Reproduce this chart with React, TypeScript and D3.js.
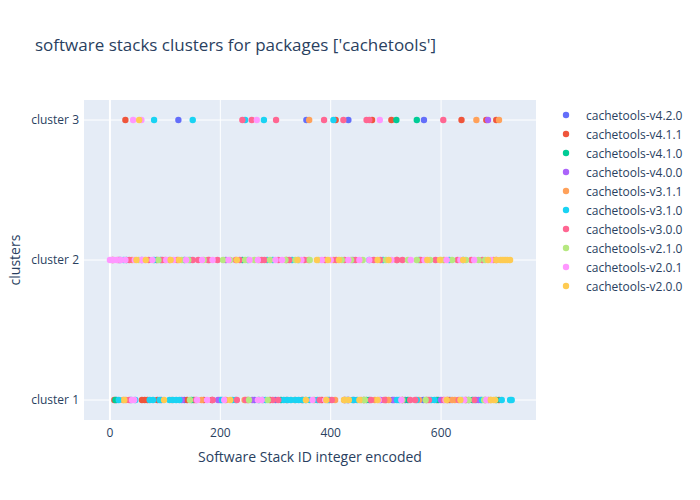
import { useEffect, useRef } from "react"
import * as d3 from "d3"

const width = 700
const height = 500

const clusters = ["cluster 1", "cluster 2", "cluster 3"]
const xTicks = [0, 200, 400, 600]
const versions = [
  "cachetools-v4.2.0",
  "cachetools-v4.1.1",
  "cachetools-v4.1.0",
  "cachetools-v4.0.0",
  "cachetools-v3.1.1",
  "cachetools-v3.1.0",
  "cachetools-v3.0.0",
  "cachetools-v2.1.0",
  "cachetools-v2.0.1",
  "cachetools-v2.0.0",
]
const colors = ["#636efa", "#EF553B", "#00cc96", "#ab63fa", "#FFA15A", "#19d3f3", "#FF6692", "#B6E880", "#FF97FF", "#FECB52"]

// stack ids per cluster, one set per version
const v420 = {
  c1: [12, 38, 93, 135, 200, 262, 300, 398, 431, 442, 470, 512, 535, 568, 616, 650, 663],
  c2: [18, 92, 135],
  c3: [124, 356, 432, 569],
}
const v411 = {
  c1: [8, 58, 63, 68, 86, 140, 152, 170, 185, 250, 290, 320, 348, 384, 425, 460, 500, 530, 574, 592, 612, 645, 680, 705],
  c2: [5, 85, 320],
  c3: [28, 409, 475, 510, 637, 682, 700],
}
const v410 = {
  c1: [10, 148, 270, 310, 465, 540, 595, 657, 700],
  c2: [30, 240],
  c3: [519, 556],
}
const v400 = {
  c1: [130, 196, 258, 277, 432, 490, 515, 600, 668, 672],
  c2: [58, 210, 440],
  c3: [685],
}
const v311 = {
  c1: [24, 29, 112, 166, 210, 244, 335, 370, 408, 455, 480, 505, 560, 620, 625, 690],
  c2: [40, 100, 180, 270, 360, 405, 520, 605, 695],
  c3: [361, 664, 705],
}
const v310 = {
  c1: [16, 46, 72, 78, 90, 108, 114, 120, 126, 203, 222, 228, 282, 315, 322, 328, 336, 342, 350, 355, 362, 376, 395, 440, 448, 520, 524, 556, 582, 588, 638, 674, 710, 725, 728],
  c2: [25, 80, 145, 250, 285, 295, 330, 342, 470, 495, 560, 615, 640],
  c3: [80, 150, 245, 279, 405],
}
const v300 = {
  c1: [35, 156, 186, 230, 246, 295, 305, 380, 402, 426, 473, 497, 544, 553, 578, 605, 632, 660, 686],
  c2: [15, 35, 70, 95, 108, 122, 150, 160, 178, 195, 228, 235, 275, 280, 305, 325, 352, 390, 410, 425, 445, 478, 490, 520, 530, 563, 590, 630, 655, 675, 700],
  c3: [240, 257, 301, 388, 423, 465, 470, 604],
}
const v210 = {
  c1: [145, 252, 286, 428, 460, 462, 530, 572, 650, 678],
  c2: [52, 88, 130, 142, 170, 205, 218, 245, 262, 290, 318, 336, 362, 378, 420, 437, 458, 500, 540, 556, 580, 600, 620, 645, 668, 680],
  c3: [],
}
const v201 = {
  c1: [40, 44, 158, 176, 207, 268, 275, 367, 390, 487, 528, 608, 642, 682],
  c2: [0, 3, 7, 12, 20, 28, 45, 57, 63, 77, 102, 115, 138, 167, 186, 215, 253, 268, 300, 312, 347, 384, 400, 432, 452, 470, 510, 545, 570, 610, 635, 660, 690],
  c3: [42, 57, 266, 489],
}
const v200 = {
  c1: [26, 98, 218, 355, 392, 424, 433, 452, 485, 610, 635, 690, 695, 698],
  c2: [48, 65, 110, 125, 230, 340, 375, 395, 415, 485, 505, 575, 598, 640, 685, 700, 708, 712, 716, 720, 725],
  c3: [53],
}
const seriesData = [v420, v411, v410, v400, v311, v310, v300, v210, v201, v200]

const App = () => {
  const svgRef = useRef<SVGSVGElement>(null)

  useEffect(() => {
    const svg = d3.select(svgRef.current)
    svg.selectAll("*").remove()

    const margin = { left: 84, right: 536, top: 100, bottom: 420 }
    const font = "'Open Sans', 'Noto Sans', sans-serif"
    const textColor = "#2a3f5f"

    const x = d3.scaleLinear().domain([-47, 772]).range([margin.left, margin.right])
    const y = d3.scalePoint<string>().domain(clusters).range([margin.bottom, margin.top]).padding(1 / 7)

    svg.append("rect")
      .attr("x", margin.left).attr("y", margin.top)
      .attr("width", margin.right - margin.left).attr("height", margin.bottom - margin.top)
      .attr("fill", "#E5ECF6")

    // grid
    svg.append("g").selectAll("line").data(xTicks).enter().append("line")
      .attr("x1", d => x(d)).attr("x2", d => x(d))
      .attr("y1", margin.top).attr("y2", margin.bottom)
      .attr("stroke", "white").attr("stroke-width", d => d === 0 ? 2 : 1)
    svg.append("g").selectAll("line").data(clusters).enter().append("line")
      .attr("x1", margin.left).attr("x2", margin.right)
      .attr("y1", d => y(d)!).attr("y2", d => y(d)!)
      .attr("stroke", "white").attr("stroke-width", 1)

    // tick labels
    svg.append("g").selectAll("text").data(xTicks).enter().append("text")
      .attr("x", d => x(d)).attr("y", margin.bottom + 17)
      .attr("text-anchor", "middle")
      .attr("font-family", font).attr("font-size", 12).attr("fill", textColor)
      .text(d => d)
    svg.append("g").selectAll("text").data(clusters).enter().append("text")
      .attr("x", margin.left - 5).attr("y", d => y(d)! + 4)
      .attr("text-anchor", "end")
      .attr("font-family", font).attr("font-size", 12).attr("fill", textColor)
      .text(d => d)

    // points
    const plot = svg.append("g")
    seriesData.forEach((s, i) => {
      const pts = [
        ...s.c1.map(v => ({ v, c: clusters[0] })),
        ...s.c2.map(v => ({ v, c: clusters[1] })),
        ...s.c3.map(v => ({ v, c: clusters[2] })),
      ]
      plot.append("g").selectAll("circle").data(pts).enter().append("circle")
        .attr("cx", d => x(d.v)).attr("cy", d => y(d.c)!)
        .attr("r", 3.2)
        .attr("fill", colors[i])
    })

    // titles
    svg.append("text")
      .attr("x", 35).attr("y", 51)
      .attr("font-family", font).attr("font-size", 17).attr("fill", textColor)
      .text("software stacks clusters for packages ['cachetools']")
    svg.append("text")
      .attr("x", (margin.left + margin.right) / 2).attr("y", 462)
      .attr("text-anchor", "middle")
      .attr("font-family", font).attr("font-size", 14).attr("fill", textColor)
      .text("Software Stack ID integer encoded")
    svg.append("text")
      .attr("transform", `translate(15, ${(margin.top + margin.bottom) / 2}) rotate(-90)`)
      .attr("text-anchor", "middle").attr("dy", "0.35em")
      .attr("font-family", font).attr("font-size", 14).attr("fill", textColor)
      .text("clusters")

    // legend
    const legend = svg.append("g").selectAll("g").data(versions).enter().append("g")
      .attr("transform", (d, i) => `translate(566, ${115 + i * 19})`)
    legend.append("circle").attr("r", 3.2).attr("fill", (d, i) => colors[i])
    legend.append("text")
      .attr("x", 20).attr("y", 4.5)
      .attr("font-family", font).attr("font-size", 12).attr("fill", textColor)
      .text(d => d)
  }, [])

  return (
    <svg ref={svgRef} width={width} height={height}
      style={{ position: "absolute", left: 0, top: 0, background: "white" }} />
  )
}

export default App
